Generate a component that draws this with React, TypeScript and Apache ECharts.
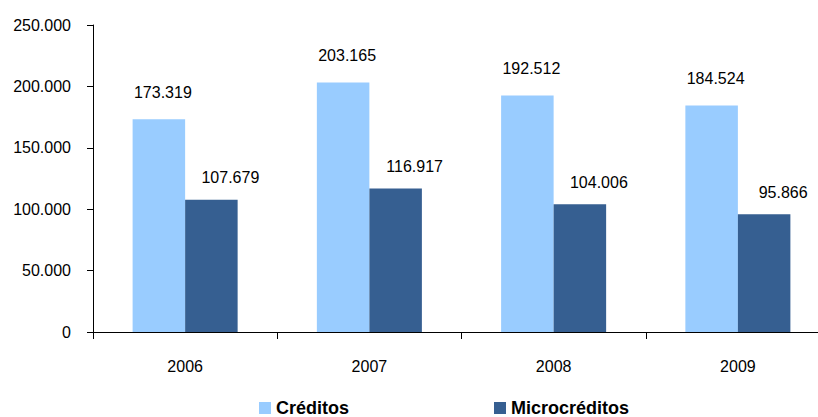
import React, { useEffect, useRef } from "react";
import * as echarts from "echarts";

const categories = ["2006", "2007", "2008", "2009"];
const creditos = [173319, 203165, 192512, 184524];
const microcreditos = [107679, 116917, 104006, 95866];
const seriesNames = ["Créditos", "Microcréditos"];

const fmt = (v: number) => {
  const s = Math.round(v).toString();
  return s.replace(/\B(?=(\d{3})+(?!\d))/g, ".");
};

const FONT = "'Liberation Sans', Arial, sans-serif";

export default function App() {
  const ref = useRef<HTMLDivElement>(null);
  useEffect(() => {
    if (!ref.current) return;
    const chart = echarts.init(ref.current, null, { renderer: "svg" });
    const labelStyle = (distance: number, dx: number) => ({
      show: true,
      position: "top" as const,
      distance,
      offset: [dx, 0],
      color: "#000",
      fontSize: 16,
      fontFamily: FONT,
      formatter: (p: any) => fmt(p.value),
    });
    chart.setOption({
      animation: false,
      textStyle: { fontFamily: FONT },
      grid: { left: 93, top: 25, height: 307, width: 737, outerBoundsMode: "none", containLabel: false },
      legend: {
        left: 259,
        top: 399,
        padding: 0,
        itemWidth: 12,
        itemHeight: 12,
        itemGap: 145,
        icon: "rect",
        textStyle: { fontSize: 18, fontWeight: "bold", color: "#000", fontFamily: FONT, lineHeight: 18 },
        data: seriesNames,
      },
      xAxis: {
        type: "category",
        data: categories,
        axisLine: { lineStyle: { color: "#000", width: 1 } },
        axisTick: { show: true, length: 7, lineStyle: { color: "#000" } },
        axisLabel: { color: "#000", fontSize: 16, margin: 26, fontFamily: FONT },
      },
      yAxis: {
        type: "value",
        min: 0,
        max: 250000,
        interval: 50000,
        axisLine: { show: true, lineStyle: { color: "#000", width: 1 } },
        axisTick: { show: true, length: 6, lineStyle: { color: "#000" } },
        splitLine: { show: false },
        axisLabel: { color: "#000", fontSize: 16, margin: 22, fontFamily: FONT, formatter: (v: number) => fmt(v) },
      },
      series: [
        {
          name: seriesNames[0],
          type: "bar",
          data: creditos,
          barGap: "0%",
          barCategoryGap: "43%",
          itemStyle: { color: "#99CCFF" },
          label: labelStyle(19, 4),
        },
        {
          name: seriesNames[1],
          type: "bar",
          data: microcreditos,
          barGap: "0%",
          barCategoryGap: "43%",
          itemStyle: { color: "#365F91" },
          label: labelStyle(14, 19),
        },
      ],
    });
    return () => chart.dispose();
  }, []);
  return <div ref={ref} style={{ width: 818, height: 417, position: "absolute", left: 0, top: 0 }} />;
}
